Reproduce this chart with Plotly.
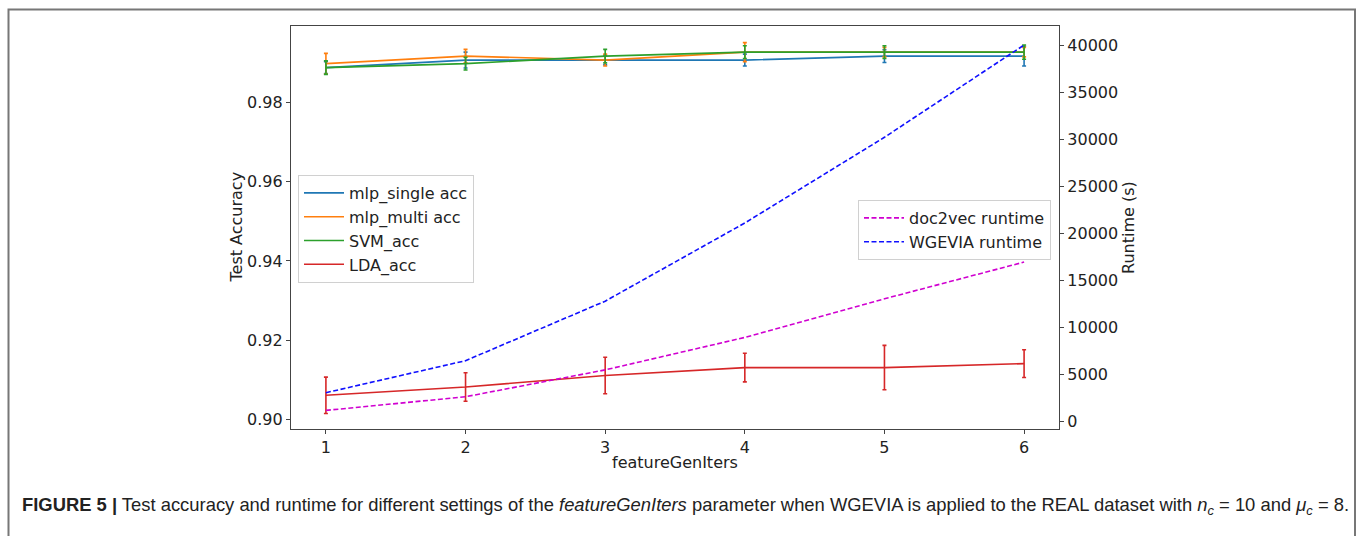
import plotly.graph_objects as go

iters = [1, 2, 3, 4, 5, 6]

mlp_single = [0.9888, 0.9907, 0.9907, 0.9907, 0.9917, 0.9917]
mlp_single_err = [0.0015, 0.0020, 0.0012, 0.0015, 0.0016, 0.0025]
mlp_multi = [0.9898, 0.9917, 0.9907, 0.9927, 0.9927, 0.9927]
mlp_multi_err = [0.0026, 0.0017, 0.0015, 0.0024, 0.0012, 0.0012]
svm = [0.9888, 0.9898, 0.9917, 0.9927, 0.9927, 0.9927]
svm_err = [0.0017, 0.0016, 0.0017, 0.0016, 0.0016, 0.0018]
lda = [0.9061, 0.9082, 0.9111, 0.9131, 0.9131, 0.9141]
lda_err = [0.0046, 0.0036, 0.0046, 0.0036, 0.0056, 0.0035]

doc2vec_rt = [1200, 2650, 5500, 8950, 13050, 16950]
wgevia_rt = [3080, 6480, 12800, 21100, 30200, 40000]

acc_ticks = [0.90, 0.92, 0.94, 0.96, 0.98]
rt_ticks = [0, 5000, 10000, 15000, 20000, 25000, 30000, 35000, 40000]

FONT = "DejaVu Sans"

# plot area in pixels
L, R, T, B = 291, 1059, 26, 429
W, H = R - L, B - T
def px(x):
    return (x - L) / W
def py(y):
    return (B - y) / H

fig = go.Figure()

acc_series = [
    ("mlp_single acc", mlp_single, mlp_single_err, "#1f77b4"),
    ("mlp_multi acc", mlp_multi, mlp_multi_err, "#ff7f0e"),
    ("SVM_acc", svm, svm_err, "#2ca02c"),
    ("LDA_acc", lda, lda_err, "#d62728"),
]
for name, vals, errs, col in acc_series:
    fig.add_trace(go.Scatter(
        x=iters, y=vals, name=name, mode="lines",
        line=dict(color=col, width=1.6),
        error_y=dict(type="data", array=errs, visible=True, color=col,
                     thickness=1.6, width=2),
        legend="legend", yaxis="y",
    ))

fig.add_trace(go.Scatter(
    x=iters, y=doc2vec_rt, name="doc2vec runtime", mode="lines",
    line=dict(color="#d000d0", width=1.6, dash="5px,2.5px"),
    legend="legend2", yaxis="y2",
))
fig.add_trace(go.Scatter(
    x=iters, y=wgevia_rt, name="WGEVIA runtime", mode="lines",
    line=dict(color="#1010ff", width=1.6, dash="5px,2.5px"),
    legend="legend2", yaxis="y2",
))

axis_common = dict(
    showline=True, linecolor="#444", linewidth=1.2, ticks="outside",
    ticklen=4, tickcolor="#444", showgrid=False, zeroline=False,
    tickfont=dict(family=FONT, size=16, color="#222"),
)

fig.update_layout(
    width=1360, height=536,
    margin=dict(l=L, r=1360 - R, t=T, b=536 - B),
    plot_bgcolor="white", paper_bgcolor="white",
    xaxis=dict(range=[0.75, 6.25], tickvals=iters, mirror=True, **axis_common),
    yaxis=dict(range=[0.8976, 0.9993], tickvals=acc_ticks,
               ticktext=[f"{v:.2f}" for v in acc_ticks], **axis_common),
    yaxis2=dict(range=[-775, 42018], tickvals=rt_ticks,
                ticktext=[str(v) for v in rt_ticks], overlaying="y",
                side="right", **axis_common),
    legend=dict(x=px(298), y=py(175), xanchor="left", yanchor="top",
                bgcolor="rgba(255,255,255,0.85)", bordercolor="#d0d0d0",
                borderwidth=1, font=dict(family=FONT, size=16, color="#222"),
                tracegroupgap=0, itemwidth=40),
    legend2=dict(x=px(858), y=py(200), xanchor="left", yanchor="top",
                 bgcolor="rgba(255,255,255,0.85)", bordercolor="#d0d0d0",
                 borderwidth=1, font=dict(family=FONT, size=16, color="#222"),
                 tracegroupgap=0, itemwidth=40),
    showlegend=True,
)

annotations = [
    dict(text="Test Accuracy", x=px(236), y=0.5, textangle=-90,
         font=dict(family=FONT, size=16, color="#222")),
    dict(text="Runtime (s)", x=px(1128), y=py(228), textangle=-90,
         font=dict(family=FONT, size=16, color="#222")),
    dict(text="featureGenIters", x=0.5, y=py(463),
         font=dict(family=FONT, size=16, color="#222")),
    dict(text="<b>FIGURE 5 |</b> Test accuracy and runtime for different settings of the "
              "<i>featureGenIters</i> parameter when WGEVIA is applied to the REAL dataset "
              "with <i>n<sub>c</sub></i> = 10 and <i>μ<sub>c</sub></i> = 8.",
         x=px(20), y=py(506), xanchor="left",
         font=dict(family="Liberation Sans", size=18.4, color="#222")),
]
for a in annotations:
    a.setdefault("xanchor", "center")
    fig.add_annotation(xref="paper", yref="paper", showarrow=False,
                       yanchor="middle", **a)

fig.add_shape(type="rect", xref="paper", yref="paper",
              x0=px(8.5), x1=px(1355), y0=py(560), y1=py(9.5),
              line=dict(color="#777", width=2), layer="below")

fig.write_html("out.html")
